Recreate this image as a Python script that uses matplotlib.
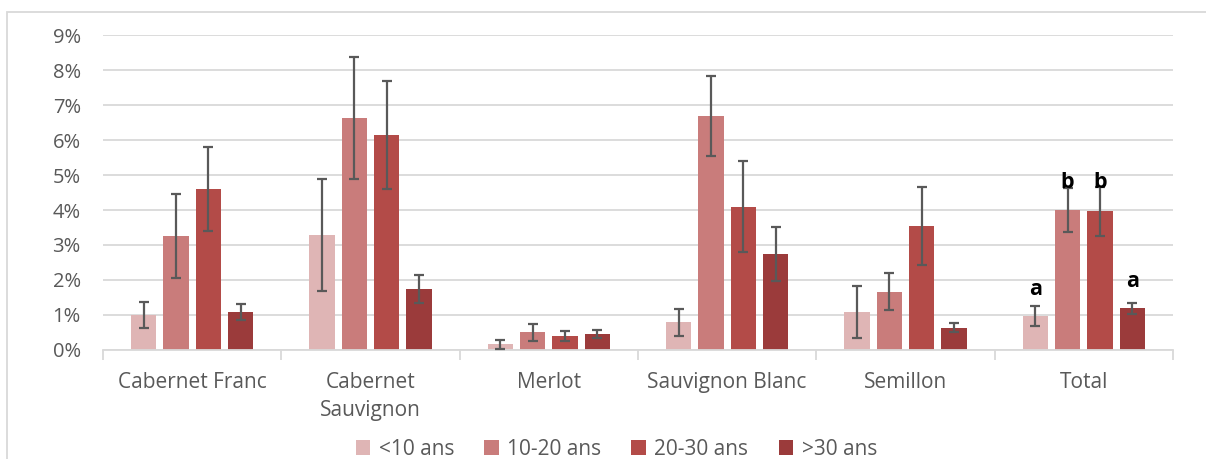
import matplotlib
matplotlib.use("Agg")
import matplotlib.pyplot as plt
import matplotlib.patches as mpatches
import numpy as np

# ── Data ──────────────────────────────────────────────────────────────────────
cepages = ["Cabernet Franc", "Cabernet\nSauvignon", "Merlot",
           "Sauvignon Blanc", "Semillon", "Total"]
classes = ["<10 ans", "10-20 ans", "20-30 ans", ">30 ans"]

moy_lt10  = [1.00, 3.28, 0.16, 0.79, 1.08, 0.97]
moy_10_20 = [3.27, 6.64, 0.50, 6.69, 1.67, 4.00]
moy_20_30 = [4.60, 6.15, 0.40, 4.10, 3.55, 3.96]
moy_gt30  = [1.09, 1.74, 0.45, 2.74, 0.63, 1.19]

err_lt10  = [0.36, 1.60, 0.13, 0.39, 0.75, 0.28]
err_10_20 = [1.20, 1.74, 0.24, 1.15, 0.52, 0.64]
err_20_30 = [1.19, 1.54, 0.14, 1.30, 1.12, 0.70]
err_gt30  = [0.22, 0.41, 0.12, 0.77, 0.13, 0.16]

# lettres de significativité (groupe Total)
lettres   = ["a", "b", "b", "a"]
lettres_y = [1.72, 4.78, 4.78, 1.95]

COULEURS = ["#dfb5b5", "#c97c7b", "#b34b48", "#9b3b3b"]
GRIS_TXT = "#595959"
GRIS_GRID = "#d9d9d9"

plt.rcParams.update({
    "font.family": ["Open Sans", "DejaVu Sans"],
    "font.size": 14,
})

moyennes = [moy_lt10, moy_10_20, moy_20_30, moy_gt30]
erreurs  = [err_lt10, err_10_20, err_20_30, err_gt30]

fig = plt.figure(figsize=(12.06, 4.59), dpi=100)
ax = fig.add_axes([0.0854, 0.2375, 0.8872, 0.6862])

x = np.arange(len(cepages))
pas, larg = 0.1815, 0.142
for i, (m, e, c, lab) in enumerate(zip(moyennes, erreurs, COULEURS, classes)):
    pos = x + (i - 1.5) * pas
    ax.bar(pos, np.array(m) / 100, width=larg, color=c, label=lab, zorder=2)
    ax.errorbar(pos, np.array(m) / 100, yerr=np.array(e) / 100, fmt="none",
                ecolor=GRIS_TXT, elinewidth=1.6, capsize=3.5, capthick=1.6, zorder=3)

# lettres au-dessus des barres du Total
for i, (l, y) in enumerate(zip(lettres, lettres_y)):
    ax.text(x[-1] + (i - 1.5) * pas, y / 100, l, ha="center", va="center",
            fontsize=15.5, fontweight="bold", color="black", zorder=4)

ax.set_xlim(-0.5, len(cepages) - 0.5)
ax.set_ylim(0, 0.09)
ax.set_yticks(np.arange(0, 0.091, 0.01))
ax.set_yticklabels([f"{k}%" for k in range(10)])
ax.yaxis.grid(True, color=GRIS_GRID, linewidth=1.3, zorder=0)
ax.set_axisbelow(True)

ax.set_xticks(np.arange(-0.5, len(cepages), 1.0))
ax.set_xticklabels([])
ax.set_xticks(x, minor=True)
ax.set_xticklabels(cepages, minor=True, fontsize=15, color=GRIS_TXT,
                   linespacing=1.45, va="top")
ax.tick_params(axis="x", which="major", length=7, width=1.3, color=GRIS_GRID)
ax.tick_params(axis="x", which="minor", length=0, pad=16)
ax.tick_params(axis="y", length=0, labelsize=14.5, labelcolor=GRIS_TXT, pad=16)

for s in ["top", "right", "left"]:
    ax.spines[s].set_visible(False)
ax.spines["bottom"].set_color(GRIS_GRID)
ax.spines["bottom"].set_linewidth(1.3)

# cadre de la zone graphique
fig.patches.append(mpatches.Rectangle((0.0058, -0.05), 1.1, 1.024, fill=False,
                                      edgecolor=GRIS_GRID, linewidth=1.3,
                                      transform=fig.transFigure))

fig.legend(loc="center", bbox_to_anchor=(0.511, 0.021), ncol=4, frameon=False,
           fontsize=15, labelcolor=GRIS_TXT, handlelength=0.7, handleheight=0.7,
           handletextpad=0.4, columnspacing=1.45)

plt.savefig("out.png", dpi=100)
